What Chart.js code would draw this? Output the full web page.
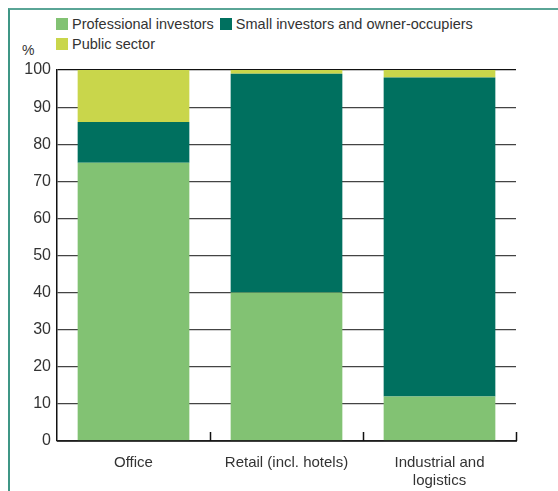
<!DOCTYPE html>
<html>
<head>
<meta charset="utf-8">
<script src="https://cdn.jsdelivr.net/npm/chart.js@4"></script>
<style>
  body { margin: 0; background: #fff; }
  #wrap { position: relative; width: 558px; height: 491px; font-family: "Liberation Sans", Arial, sans-serif; color: #333; }
  #frame { position: absolute; left: 8px; top: 8px; right: 0; bottom: 0; border-left: 2px solid #3f9686; border-top: 2px solid #5aa596; }
  #legend { position: absolute; left: 56px; top: 14px; width: 480px; font-size: 14.5px; line-height: 20px; }
  .item { display: inline-block; margin-right: 6px; white-space: nowrap; }
  .sw { display: inline-block; width: 12px; height: 12px; margin-right: 4px; vertical-align: -1px; }
  #unit { position: absolute; left: 22px; top: 42px; font-size: 14px; }
  canvas { position: absolute; left: 0; top: 0; }
</style>
</head>
<body>
<div id="wrap">
  <div id="frame"></div>
  <div id="legend"></div>
  <div id="unit">%</div>
  <canvas id="chart" width="558" height="491"></canvas>
</div>
<script>
// categories and shares (%)
var categories = ["Office", "Retail (incl. hotels)", ["Industrial and", "logistics"]];
var professional = [75, 40, 12];
var smallOwners = [11, 59, 86];
var publicSector = [14, 1, 2];
var seriesNames = ["Professional investors", "Small investors and owner-occupiers", "Public sector"];
var seriesColors = ["#82c273", "#00705f", "#c9d64b"];
var yTicks = [0, 10, 20, 30, 40, 50, 60, 70, 80, 90, 100];

// html legend, first two on one row
var legend = document.getElementById("legend");
seriesNames.forEach(function(name, i){
    var span = document.createElement("span");
    span.className = "item";
    span.innerHTML = '<span class="sw" style="background:' + seriesColors[i] + '"></span>' + name;
    legend.appendChild(span);
    if (i == 1) legend.appendChild(document.createElement("br"));
});

// short upward ticks on the x axis, at the category boundaries
var boundaryTicks = {
    id: 'boundaryTicks',
    afterDraw: function(chart){
        var x = chart.scales.x, ctx = chart.ctx, area = chart.chartArea;
        var xs = [];
        for (let i = 0; i < categories.length - 1; i++) {
            xs.push((x.getPixelForValue(i) + x.getPixelForValue(i + 1)) / 2);
        }
        xs.push(area.right);
        ctx.save();
        ctx.strokeStyle = '#111';
        ctx.lineWidth = 1.5;
        ctx.beginPath();
        xs.forEach(function(px){
            px = Math.round(px) + 0.5;
            ctx.moveTo(px, area.bottom);
            ctx.lineTo(px, area.bottom - 9);
        });
        ctx.moveTo(area.left, area.bottom);
        ctx.lineTo(area.right + 1, area.bottom);
        ctx.stroke();
        ctx.restore();
    }
};

var mk = function(i, data){
    return {
        label: seriesNames[i],
        data: data,
        backgroundColor: seriesColors[i],
        borderWidth: 0,
        barPercentage: 0.73,
        categoryPercentage: 1.0
    };
};

new Chart(document.getElementById('chart'), {
    type: 'bar',
    data: {
        labels: categories,
        datasets: [mk(0, professional), mk(1, smallOwners), mk(2, publicSector)]
    },
    options: {
        responsive: false,
        animation: { duration: 0 },
        layout: { padding: { top: 70, right: 42, left: 0, bottom: 0 } },
        plugins: { legend: { display: false }, tooltip: { enabled: false } },
        scales: {
            x: {
                stacked: true,
                grid: { display: false },
                border: { display: false },
                ticks: {
                    color: '#333',
                    padding: 5,
                    font: { family: 'Liberation Sans', size: 15, lineHeight: 1.2 },
                    maxRotation: 0
                },
                afterFit: function(s){ s.height = 50; }
            },
            y: {
                stacked: true,
                min: 0,
                max: 100,
                afterBuildTicks: function(s){ s.ticks = yTicks.map(function(v){ return {value: v}; }); },
                grid: {
                    color: function(c){ return c.tick && c.tick.value == 100 ? '#111' : '#444'; },
                    lineWidth: 1.2,
                    drawTicks: false
                },
                border: { display: true, color: '#111', width: 1.5 },
                ticks: {
                    color: '#333',
                    padding: 6,
                    font: { family: 'Liberation Sans', size: 16 }
                },
                afterFit: function(s){ s.width = 57; }
            }
        }
    },
    plugins: [boundaryTicks]
});
</script>
</body>
</html>
